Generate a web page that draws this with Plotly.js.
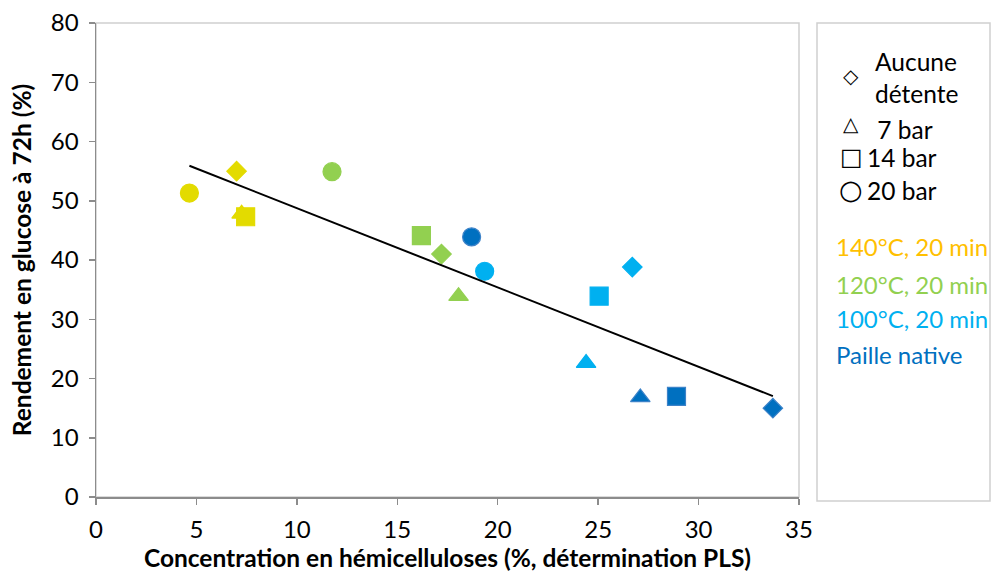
<!DOCTYPE html>
<html>
<head>
<meta charset="utf-8">
<script src="https://cdn.plot.ly/plotly-3.0.1.min.js"></script>
<style>html,body{margin:0;padding:0;background:#fff;}#chart{width:991px;height:572px;}</style>
</head>
<body>
<div id="chart"></div>
<script>
// Pressure levels (marker symbols), in order: Aucune détente, 7 bar, 14 bar, 20 bar
const pressureLabels = ['Aucune détente', '7 bar', '14 bar', '20 bar'];
const pressureSymbols = ['diamond', 'triangle-up', 'square', 'circle'];

// Treatment series (one value per pressure level, same order)
const seriesNames = ['140°C, 20 min', '120°C, 20 min', '100°C, 20 min', 'Paille native'];
const x140 = [7.0, 7.25, 7.45, 4.65];
const y140 = [55.0, 47.8, 47.3, 51.3];
const x120 = [17.2, 18.05, 16.2, 11.75];
const y120 = [41.0, 33.9, 44.1, 54.9];
const x100 = [26.7, 24.4, 25.05, 19.35];
const y100 = [38.8, 22.6, 33.9, 38.1];
const xNat = [33.7, 27.1, 28.9, 18.7];
const yNat = [15.0, 16.8, 17.0, 43.9];

const markerColors = ['#E3DB00', '#92D050', '#00B0F0', '#0070C0'];
const lineColors = ['#E3DB00', '#92D050', '#00B0F0', '#3C82C8'];
const textColors = ['#FFC000', '#92D050', '#00B0F0', '#0070C0'];

const xs = [x140, x120, x100, xNat];
const ys = [y140, y120, y100, yNat];
const sizes = {'diamond': 15, 'triangle-up': 17, 'square': 18, 'circle': 18};

const FONT = 'Lato, "Liberation Sans", sans-serif';

const traces = [];
xs.forEach((xa, i) => {
  traces.push({
    type: 'scatter', mode: 'markers', name: seriesNames[i],
    x: xa, y: ys[i],
    marker: {
      symbol: pressureSymbols,
      size: pressureSymbols.map(s => sizes[s]),
      color: markerColors[i], opacity: 1,
      line: {color: lineColors[i], width: 1.2}
    },
    hoverinfo: 'x+y'
  });
});

// Linear trendline (least squares over all points)
const allX = [].concat(...xs), allY = [].concat(...ys);
const n = allX.length;
const mx = allX.reduce((a, b) => a + b, 0) / n;
const my = allY.reduce((a, b) => a + b, 0) / n;
let sxy = 0, sxx = 0;
for (let k = 0; k < n; k++) { sxy += (allX[k] - mx) * (allY[k] - my); sxx += (allX[k] - mx) ** 2; }
const slope = sxy / sxx, icpt = my - slope * mx;
const xmin = Math.min(...allX), xmax = Math.max(...allX);
traces.push({
  type: 'scatter', mode: 'lines', name: 'Tendance',
  x: [xmin, xmax], y: [icpt + slope * xmin, icpt + slope * xmax],
  line: {color: '#000000', width: 2}, hoverinfo: 'skip'
});

// Pixel helpers for legend placement (plot area: x 96..799, y 23..497)
const L = 96, R = 799, T = 23, B = 497;
const px = v => (v - L) / (R - L);
const py = v => (B - v) / (B - T);

const annotations = [];
// symbol legend
const glyphs = ['◇', '△', '□', '○'];
const glyphY = [76, 124, 157, 189];
const glyphSize = [20, 20, 24, 27];
glyphs.forEach((g, i) => {
  annotations.push({xref: 'paper', yref: 'paper', x: px(851), y: py(glyphY[i]), text: g, showarrow: false,
    xanchor: 'center', yanchor: 'middle', font: {family: 'DejaVu Sans', size: glyphSize[i], color: '#000'}});
});
const legTextLines = [['Aucune', 873, 61], ['détente', 873, 94], [' 7 bar', 869, 129], ['14 bar', 865, 158], ['20 bar', 865, 190]];
legTextLines.forEach(t => {
  annotations.push({xref: 'paper', yref: 'paper', x: px(t[1]), y: py(t[2]), text: t[0], showarrow: false,
    xanchor: 'left', yanchor: 'middle', font: {family: FONT, size: 24.5, color: '#000'}});
});
const colorY = [246, 284, 319, 354];
seriesNames.forEach((s, i) => {
  annotations.push({xref: 'paper', yref: 'paper', x: px(834), y: py(colorY[i]), text: s, showarrow: false,
    xanchor: 'left', yanchor: 'middle', font: {family: FONT, size: 24, color: textColors[i]}});
});

const layout = {
  width: 991, height: 572,
  margin: {l: 96, r: 192, t: 23, b: 75},
  paper_bgcolor: '#ffffff', plot_bgcolor: '#ffffff',
  showlegend: false,
  font: {family: FONT, size: 24, color: '#000'},
  xaxis: {
    range: [0, 35], dtick: 5, tick0: 0, showgrid: false, zeroline: false,
    showline: true, linecolor: '#8c8c8c', linewidth: 1.5,
    ticks: 'outside', ticklen: 6, tickcolor: '#8c8c8c', tickwidth: 1.5,
    ticklabelstandoff: 5,
    tickfont: {family: FONT, size: 24, color: '#000'},
    title: {text: 'Concentration en hémicelluloses (%, détermination PLS)', standoff: 3,
      font: {family: FONT, size: 24.5, color: '#000', weight: 'bold'}}
  },
  yaxis: {
    range: [0, 80], dtick: 10, tick0: 0, showgrid: false, zeroline: false,
    showline: true, linecolor: '#8c8c8c', linewidth: 1.5,
    ticks: 'outside', ticklen: 6, tickcolor: '#8c8c8c', tickwidth: 1.5,
    ticklabelstandoff: 5,
    tickfont: {family: FONT, size: 24, color: '#000'},
    title: {text: 'Rendement en glucose à 72h (%)', standoff: 12,
      font: {family: FONT, size: 24.5, color: '#000', weight: 'bold'}}
  },
  shapes: [
    {type: 'rect', xref: 'paper', yref: 'paper', x0: 0, x1: 1, y0: 0, y1: 1,
      line: {color: '#d0d0d0', width: 1.5}, layer: 'below'},
    {type: 'rect', xref: 'paper', yref: 'paper', x0: px(817), x1: px(990), y0: py(501), y1: py(23),
      line: {color: '#d0d0d0', width: 1.5}, fillcolor: 'rgba(0,0,0,0)'}
  ],
  annotations: annotations
};

Plotly.newPlot('chart', traces, layout, {displayModeBar: false, staticPlot: true});
</script>
</body>
</html>
